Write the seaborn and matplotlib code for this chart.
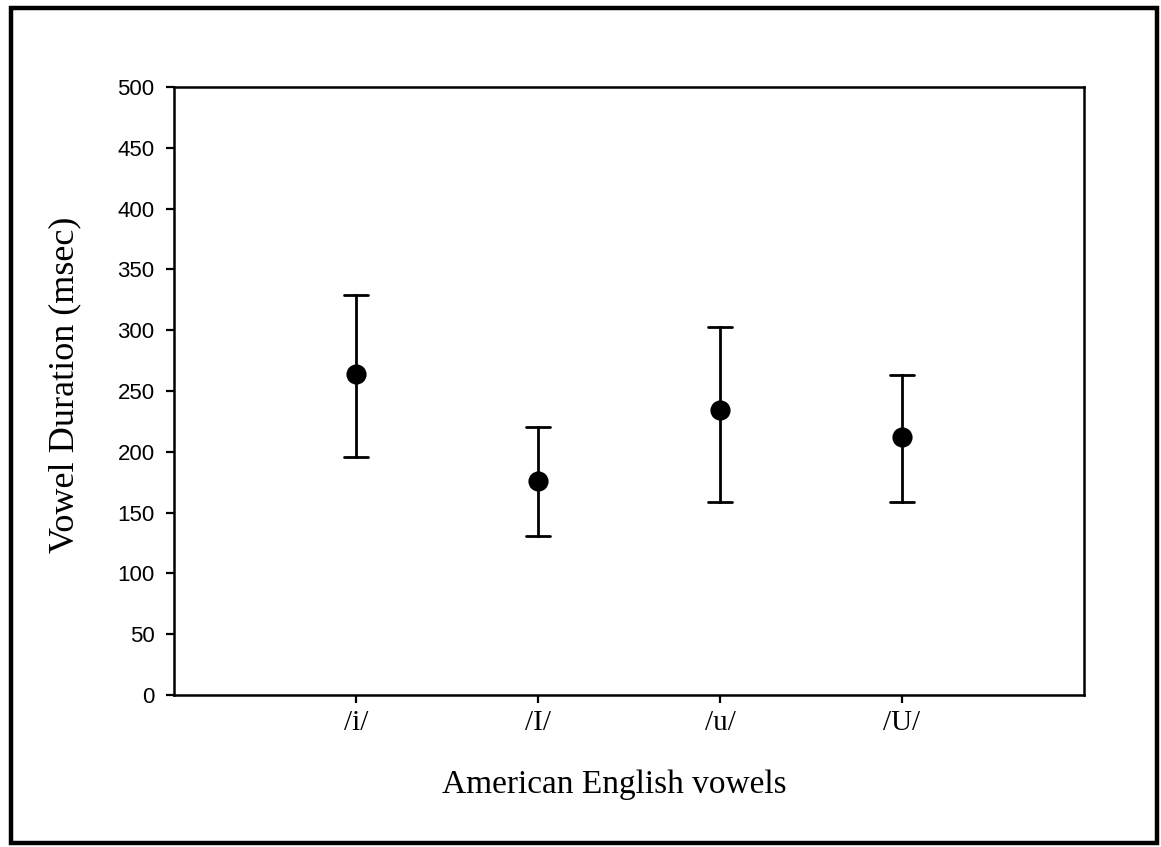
import numpy as np
import pandas as pd
import matplotlib
matplotlib.use("Agg")
import matplotlib.pyplot as plt
import seaborn as sns
from matplotlib.patches import Rectangle

# ---- data ----
vowels = ["/i/", "/I/", "/u/", "/U/"]
mean_ms = [264, 176, 234, 212]
upper_ms = [329, 220, 303, 263]
lower_ms = [196, 131, 159, 159]
yticks = [0, 50, 100, 150, 200, 250, 300, 350, 400, 450, 500]

# long table: for each vowel the lower bound, mean and upper bound
rows = []
for v, lo, m, hi in zip(vowels, lower_ms, mean_ms, upper_ms):
    for val in (lo, m, hi):
        rows.append({"vowel": v, "duration": val})
df = pd.DataFrame(rows)

sns.set_theme(style="white")
plt.rcParams["font.family"] = ["Liberation Serif", "DejaVu Serif"]
plt.rcParams["text.color"] = "black"
plt.rcParams["axes.labelcolor"] = "black"

fig = plt.figure(figsize=(11.61, 8.47), dpi=100)
ax = fig.add_axes([0.1499, 0.1795, 0.7838, 0.7178])

sns.pointplot(
    data=df, x="vowel", y="duration", order=vowels,
    estimator=np.median,
    errorbar=lambda s: (s.min(), s.max()),
    linestyle="none", marker="o", markersize=12.5,
    color="black", capsize=0.13,
    err_kws={"linewidth": 2.0},
    ax=ax,
)

ax.set_xlim(-1, 4)
ax.set_ylim(0, 500)
ax.set_yticks(yticks)
ax.set_yticklabels([str(t) for t in yticks], fontsize=16, family="Liberation Sans")
ax.set_xticks(range(len(vowels)))
ax.set_xticklabels(vowels, fontsize=21)

for s in ax.spines.values():
    s.set_visible(True)
    s.set_color("black")
    s.set_linewidth(1.8)

ax.tick_params(axis="y", direction="out", length=6, width=1.6, pad=8,
               left=True, colors="black")
ax.tick_params(axis="x", direction="out", length=6, width=1.6, pad=5,
               bottom=True, colors="black")

ax.set_xlabel("American English vowels", fontsize=24, color="black")
ax.set_ylabel("Vowel Duration (msec)", fontsize=26, color="black")
ax.xaxis.set_label_coords(0.484, -0.123)
ax.yaxis.set_label_coords(-0.102, 0.51)

# outer frame around the whole figure
fig.patches.append(Rectangle((11 / 1161, 1 - 843 / 847), (1157 - 11) / 1161,
                             (843 - 8) / 847, transform=fig.transFigure,
                             fill=False, edgecolor="black", linewidth=3.2))

fig.savefig("out.png", dpi=100, facecolor="white")
